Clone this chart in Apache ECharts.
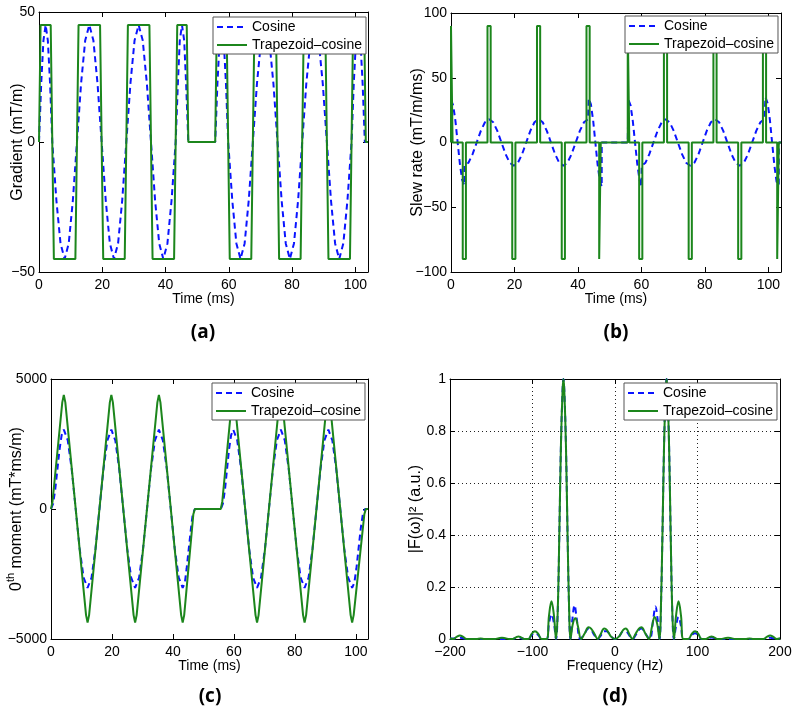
<!DOCTYPE html>
<html><head><meta charset="utf-8">
<script src="https://cdn.jsdelivr.net/npm/echarts@6/dist/echarts.min.js"></script>
<style>html,body{margin:0;padding:0;background:#fff}#c{width:800px;height:709px}</style>
</head><body><div id="c"></div>
<script>
// ---------- data ----------
const seriesNames = ['Cosine', 'Trapezoid\u2013cosine'];
const panelLabels = ['(a)', '(b)', '(c)', '(d)'];
const timeTicks = [0, 20, 40, 60, 80, 100];
const freqTicks = [-200, -100, 0, 100, 200];

// (a) gradient, mT/m  [time ms, value]
const gradCos = [[0,0],[0.7,22.5],[1.4,39],[2.1,45],[2.8,39],[3.5,22.5],[4.2,0],
[5.5,-22.5],[6.8,-39],[8.1,-45],[9.4,-39],[10.7,-22.5],[12.0,0],
[13.3,22.5],[14.6,39],[15.9,45],[17.2,39],[18.5,22.5],[19.8,0],
[21.1,-22.5],[22.4,-39],[23.7,-45],[25.0,-39],[26.3,-22.5],[27.6,0],
[28.9,22.5],[30.2,39],[31.5,45],[32.8,39],[34.1,22.5],[35.4,0],
[36.7,-22.5],[38.0,-39],[39.3,-45],[40.6,-39],[41.9,-22.5],[43.2,0],
[43.9,22.5],[44.5,39],[45.2,45],[45.9,39],[46.5,22.5],[47.2,0],
[55.7,0],[56.4,22.5],[57.1,39],[57.75,45],[58.4,39],[59.1,22.5],[59.8,0],
[61.1,-22.5],[62.4,-39],[63.7,-45],[65.0,-39],[66.3,-22.5],[67.6,0],
[68.9,22.5],[70.2,39],[71.5,45],[72.8,39],[74.1,22.5],[75.4,0],
[76.7,-22.5],[78.0,-39],[79.3,-45],[80.6,-39],[81.9,-22.5],[83.2,0],
[84.5,22.5],[85.8,39],[87.1,45],[88.4,39],[89.7,22.5],[91.0,0],
[92.3,-22.5],[93.6,-39],[94.9,-45],[96.2,-39],[97.5,-22.5],[98.8,0],
[99.5,22.5],[100.2,39],[100.9,45],[101.6,39],[102.3,22.5],[103.0,0],[104,0]];
const gradTrap = [[0,0],[0.5,45],[3.7,45],[4.7,-45],[11.5,-45],[12.5,45],[19.3,45],[20.3,-45],
[27.1,-45],[28.1,45],[34.9,45],[35.9,-45],[42.7,-45],[43.7,45],[46.7,45],[47.2,0],
[55.7,0],[56.2,45],[59.3,45],[60.3,-45],[67.1,-45],[68.1,45],[74.9,45],[75.9,-45],
[82.7,-45],[83.7,45],[90.5,45],[91.5,-45],[98.3,-45],[99.3,45],[102.8,45],[103.3,0],[104,0]];

// (b) slew rate, mT/m/ms
const slewCos = [[0,33],[0.7,28.6],[1.4,16.5],[2.1,0],[2.8,-16.5],[3.5,-28.6],[4.2,-33],
[4.2,-18],[5.5,-15.6],[6.8,-9],[8.1,0],[9.4,9],[10.7,15.6],[12.0,18],
[13.3,15.6],[14.6,9],[15.9,0],[17.2,-9],[18.5,-15.6],[19.8,-18],
[21.1,-15.6],[22.4,-9],[23.7,0],[25.0,9],[26.3,15.6],[27.6,18],
[28.9,15.6],[30.2,9],[31.5,0],[32.8,-9],[34.1,-15.6],[35.4,-18],
[36.7,-15.6],[38.0,-9],[39.3,0],[40.6,9],[41.9,15.6],[43.2,18],
[43.4,34],[44.1,29.4],[44.8,17],[45.5,0],[46.2,-17],[46.9,-29.4],[47.5,-34],
[47.5,0],[55.7,0],
[55.9,33],[56.6,28.6],[57.3,16.5],[58.0,0],[58.7,-16.5],[59.4,-28.6],[60.0,-34],
[60.1,-18],[61.3,-15.6],[62.5,-9],[63.8,0],[65.1,9],[66.4,15.6],[67.6,18],
[68.9,15.6],[70.2,9],[71.5,0],[72.8,-9],[74.1,-15.6],[75.4,-18],
[76.7,-15.6],[78.0,-9],[79.3,0],[80.6,9],[81.9,15.6],[83.2,18],
[84.5,15.6],[85.8,9],[87.1,0],[88.4,-9],[89.7,-15.6],[91.0,-18],
[92.3,-15.6],[93.6,-9],[94.9,0],[96.2,9],[97.5,15.6],[98.8,18],
[99.1,35],[99.8,30.3],[100.5,17.5],[101.2,0],[101.9,-17.5],[102.6,-30.3],[103.3,-33],
[103.3,0],[104,0]];
const slewTrap = [[0,0],[0,90],[0.5,90],[0.5,0],[3.7,0],[3.7,-90],[4.7,-90],[4.7,0],
[11.5,0],[11.5,90],[12.5,90],[12.5,0],[19.3,0],[19.3,-90],[20.3,-90],[20.3,0],
[27.1,0],[27.1,90],[28.1,90],[28.1,0],[34.9,0],[34.9,-90],[35.9,-90],[35.9,0],
[42.7,0],[42.7,90],[43.7,90],[43.7,0],[46.7,0],[46.7,-90],[47.2,-90],[47.2,0],
[55.7,0],[55.7,90],[56.2,90],[56.2,0],[59.3,0],[59.3,-90],[60.3,-90],[60.3,0],
[67.1,0],[67.1,90],[68.1,90],[68.1,0],[74.9,0],[74.9,-90],[75.9,-90],[75.9,0],
[82.7,0],[82.7,90],[83.7,90],[83.7,0],[90.5,0],[90.5,-90],[91.5,-90],[91.5,0],
[98.3,0],[98.3,90],[99.3,90],[99.3,0],[102.8,0],[102.8,-90],[103.3,-90],[103.3,0],[104,0]];

// (c) 0th moment, mT*ms/m
const momCos = [[0,0],[0.7,204],[1.4,763],[2.1,1525],[2.8,2288],[3.5,2846],[4.2,3050],
[5.5,2641],[6.8,1525],[8.1,0],[9.4,-1525],[10.7,-2641],[12.0,-3030],
[13.3,-2641],[14.6,-1525],[15.9,0],[17.2,1525],[18.5,2641],[19.8,3050],
[21.1,2641],[22.4,1525],[23.7,0],[25.0,-1525],[26.3,-2641],[27.6,-3030],
[28.9,-2641],[30.2,-1525],[31.5,0],[32.8,1525],[34.1,2641],[35.4,3050],
[36.7,2641],[38.0,1525],[39.3,0],[40.6,-1525],[41.9,-2641],[43.2,-3030],
[43.9,-2846],[44.5,-2288],[45.2,-1525],[45.9,-763],[46.5,-204],[47.2,0],
[55.7,0],[56.4,204],[57.1,763],[57.75,1525],[58.4,2288],[59.1,2846],[59.8,3050],
[61.1,2641],[62.4,1525],[63.7,0],[65.0,-1525],[66.3,-2641],[67.6,-3030],
[68.9,-2641],[70.2,-1525],[71.5,0],[72.8,1525],[74.1,2641],[75.4,3050],
[76.7,2641],[78.0,1525],[79.3,0],[80.6,-1525],[81.9,-2641],[83.2,-3030],
[84.5,-2641],[85.8,-1525],[87.1,0],[88.4,1525],[89.7,2641],[91.0,3050],
[92.3,2641],[93.6,1525],[94.9,0],[96.2,-1525],[97.5,-2641],[98.8,-3030],
[99.5,-2846],[100.2,-2288],[100.9,-1525],[101.6,-763],[102.3,-204],[103.0,0],[104,0]];
const momTrap = [[0,0],[0.5,290],[3.7,4100],[4.2,4390],[4.7,4100],[11.5,-4080],[12.0,-4370],[12.5,-4080],
[19.3,4100],[19.8,4390],[20.3,4100],[27.1,-4080],[27.6,-4370],[28.1,-4080],
[34.9,4100],[35.4,4390],[35.9,4100],[42.7,-4080],[43.2,-4370],[43.7,-4080],[46.7,-200],[47.2,0],
[55.7,0],[56.2,290],[59.3,4100],[59.8,4390],[60.3,4100],[67.1,-4080],[67.6,-4370],[68.1,-4080],
[74.9,4100],[75.4,4390],[75.9,4100],[82.7,-4080],[83.2,-4370],[83.7,-4080],
[90.5,4100],[91.0,4390],[91.5,4100],[98.3,-4080],[98.8,-4370],[99.3,-4080],[102.8,-200],[103.3,0],[104,0]];

// (d) spectrum |F(w)|^2, a.u.  [frequency Hz, value]
const specCos = [[-200,0.001],[-192,0.003],[-188,0.005],[-184,0.003],[-180,0],
[-124,0],[-120,0.004],[-117,0.006],[-114,0.004],[-110,0],
[-105,0],[-101,0.015],[-97,0.022],[-93,0.015],[-89,0],
[-83,0],[-80,0.06],[-77,0.095],[-74,0.06],[-71.5,0],
[-69.5,0.1],[-67.5,0.4],[-65.5,0.75],[-63.5,0.96],[-62.5,1.0],[-61.5,0.96],[-59.5,0.75],[-57.5,0.4],[-55.5,0.1],[-54,0],
[-51.5,0.08],[-49,0.13],[-46.5,0.08],[-42,0],
[-37,0.02],[-32,0.04],[-29,0.035],[-25,0.015],[-21,0],
[-18,0.01],[-13,0.03],[-10,0.03],[-5,0.01],[0,0],
[5,0.01],[10,0.03],[13,0.03],[18,0.01],[21,0],
[25,0.015],[29,0.035],[32,0.04],[37,0.02],
[42,0],[46.5,0.08],[49,0.125],[51.5,0.08],[54,0],
[55.5,0.1],[57.5,0.4],[59.5,0.75],[61.5,0.96],[62.5,1.0],[63.5,0.96],[65.5,0.75],[67.5,0.4],[69.5,0.1],[71.5,0],
[74,0.05],[77,0.085],[80,0.05],[83,0],
[89,0],[93,0.015],[97,0.022],[101,0.015],[105,0],
[110,0],[114,0.004],[117,0.006],[120,0.004],[124,0],
[180,0],[184,0.003],[188,0.005],[192,0.003],[200,0.001]];
const specTrap = [[-200,0.003],[-196,0],[-192,0.008],[-188,0.013],[-184,0.008],[-180,0],
[-168,0],[-163,0.002],[-158,0],[-146,0],[-141,0.003],[-137,0.005],[-133,0.003],[-128,0],
[-124,0],[-120,0.006],[-117,0.01],[-114,0.006],[-110,0],
[-105,0],[-101,0.02],[-97,0.03],[-93,0.02],[-89,0],
[-83,0],[-80,0.09],[-77,0.145],[-74,0.09],[-71.5,0],
[-69.5,0.1],[-67.5,0.4],[-65.5,0.75],[-63.5,0.96],[-62.5,1.0],[-61.5,0.96],[-59.5,0.75],[-57.5,0.4],[-55.5,0.1],[-54,0],
[-51,0.06],[-48,0.08],[-45,0.05],[-41,0],
[-37,0.02],[-32,0.045],[-29,0.04],[-25,0.02],[-21,0],
[-18,0.015],[-13,0.04],[-10,0.035],[-5,0.01],[0,0],
[5,0.01],[10,0.035],[13,0.04],[18,0.015],[21,0],
[25,0.02],[29,0.04],[32,0.045],[37,0.02],[41,0],
[45,0.05],[48,0.085],[51,0.06],[54,0],
[55.5,0.1],[57.5,0.4],[59.5,0.75],[61.5,0.96],[62.5,1.0],[63.5,0.96],[65.5,0.75],[67.5,0.4],[69.5,0.1],[71.5,0],
[74,0.09],[77,0.145],[80,0.09],[83,0],
[89,0],[93,0.02],[97,0.03],[101,0.02],[105,0],
[110,0],[114,0.006],[117,0.01],[120,0.006],[124,0],
[128,0],[133,0.003],[137,0.005],[141,0.003],[146,0],
[158,0],[163,0.002],[168,0],
[180,0],[184,0.008],[188,0.013],[192,0.008],[196,0],[200,0.003]];

// ---------- chart ----------
const FONT = '"Liberation Sans", Arial, sans-serif';
const BLUE = '#0a14ff', GREEN = '#1c861c';
const NAMESIZE = 16;
const grids = [
  {left: 39, top: 12, width: 329, height: 260},
  {left: 451, top: 13, width: 330, height: 259},
  {left: 51, top: 379, width: 317, height: 260},
  {left: 450, top: 379, width: 330, height: 260}
];
const xCfg = [
  {min: 0, max: 104, interval: 20, name: 'Time (ms)', ticks: timeTicks},
  {min: 0, max: 104, interval: 20, name: 'Time (ms)', ticks: timeTicks},
  {min: 0, max: 104, interval: 20, name: 'Time (ms)', ticks: timeTicks},
  {min: -200, max: 200, interval: 100, name: 'Frequency (Hz)', ticks: freqTicks}
];
const yCfg = [
  {min: -50, max: 50, interval: 50, name: 'Gradient (mT/m)', gap: 13},
  {min: -100, max: 100, interval: 50, name: 'Slew rate (mT/m/ms)', gap: 25},
  {min: -5000, max: 5000, interval: 5000, name: '{n|0}{s|th}{n| moment (mT*ms/m)}', gap: 26},
  {min: 0, max: 1, interval: 0.2, name: '|F(\u03c9)|\u00b2 (a.u.)', gap: 26}
];
const fmt = v => String(v).replace('-', '\u2212');
const tickStyle = {inside: true, length: 5, lineStyle: {color: '#000', width: 1}};
const lineStyleAx = {onZero: false, lineStyle: {color: '#000', width: 1}};
const dotted = {show: true, lineStyle: {type: [1, 3], color: '#222', width: 1}};

const xAxis = [], yAxis = [];
for (let i = 0; i < 4; i++) {
  const c = xCfg[i];
  xAxis.push({
    gridIndex: i, type: 'value', min: c.min, max: c.max, interval: c.interval, position: 'bottom',
    axisLine: lineStyleAx, axisTick: tickStyle,
    axisLabel: {color: '#000', fontSize: 14, fontFamily: FONT, margin: 6, showMaxLabel: c.ticks.indexOf(c.max) >= 0,
      formatter: v => (c.ticks.indexOf(v) >= 0 ? fmt(v) : '')},
    splitLine: i === 3 ? dotted : {show: false},
    name: c.name, nameLocation: 'middle', nameGap: 20, nameMoveOverlap: false,
    nameTextStyle: {color: '#000', fontSize: 14, fontFamily: FONT}
  });
  const y = yCfg[i];
  yAxis.push({
    gridIndex: i, type: 'value', min: y.min, max: y.max, interval: y.interval, position: 'left',
    axisLine: lineStyleAx, axisTick: tickStyle,
    axisLabel: {color: '#000', fontSize: 14, fontFamily: FONT, margin: 4, formatter: fmt},
    splitLine: i === 3 ? dotted : {show: false},
    name: y.name, nameLocation: 'middle', nameGap: y.gap, nameRotate: 90, nameMoveOverlap: false,
    nameTextStyle: {color: '#000', fontSize: NAMESIZE, fontFamily: FONT,
      rich: {n: {fontSize: NAMESIZE, fontFamily: FONT, color: '#000', padding: [4, 0, 0, 0], verticalAlign: 'bottom'},
             s: {fontSize: 11, fontFamily: FONT, color: '#000', verticalAlign: 'top'}}}
  });
}
for (let i = 0; i < 4; i++) {
  const c = xCfg[i], y = yCfg[i];
  xAxis.push({gridIndex: i, type: 'value', min: c.min, max: c.max, interval: c.interval, position: 'top',
    axisLine: lineStyleAx, axisTick: tickStyle, axisLabel: {show: false}, splitLine: {show: false}});
  yAxis.push({gridIndex: i, type: 'value', min: y.min, max: y.max, interval: y.interval, position: 'right',
    axisLine: lineStyleAx, axisTick: tickStyle, axisLabel: {show: false}, splitLine: {show: false}});
}

const panelData = [[gradCos, gradTrap], [slewCos, slewTrap], [momCos, momTrap], [specCos, specTrap]];
const series = [];
panelData.forEach((pair, i) => {
  series.push({name: seriesNames[0], type: 'line', xAxisIndex: i, yAxisIndex: i, data: pair[0],
    showSymbol: false, symbol: 'none', smooth: i === 3 ? 0.4 : false, z: 2,
    lineStyle: {color: BLUE, width: 2, type: [6, 4]}, itemStyle: {color: BLUE}});
  series.push({name: seriesNames[1], type: 'line', xAxisIndex: i, yAxisIndex: i, data: pair[1],
    showSymbol: false, symbol: 'none', smooth: i === 3 ? 0.4 : false, z: 3,
    lineStyle: {color: GREEN, width: 2}, itemStyle: {color: GREEN}});
});

const legendPos = [[213, 17], [625, 16], [212, 383], [624, 383]];
const legend = legendPos.map(p => ({
  left: p[0], top: p[1], orient: 'vertical', itemWidth: 30, itemHeight: 14, itemGap: 4,
  padding: [3, 4, 2, 3], borderColor: '#555', borderWidth: 1, backgroundColor: '#fff',
  selectedMode: false, z: 10,
  itemStyle: {opacity: 0, borderWidth: 0, color: 'rgba(0,0,0,0)'},
  textStyle: {fontSize: 14, color: '#000', fontFamily: FONT}, data: seriesNames
}));

const labelPos = [[203, 333], [616, 333], [210, 697], [615, 697]];
const graphic = labelPos.map((p, i) => ({
  type: 'text', x: p[0], y: p[1], z: 10,
  style: {text: panelLabels[i], font: 'bold 19px "Open Sans", sans-serif', fill: '#000',
    align: 'center', verticalAlign: 'middle', textAlign: 'center', textVerticalAlign: 'middle'}
}));

const chart = echarts.init(document.getElementById('c'), null, {renderer: 'canvas'});
chart.setOption({
  animation: false, backgroundColor: '#fff',
  grid: grids, xAxis: xAxis, yAxis: yAxis, series: series, legend: legend, graphic: graphic
});
</script></body></html>
